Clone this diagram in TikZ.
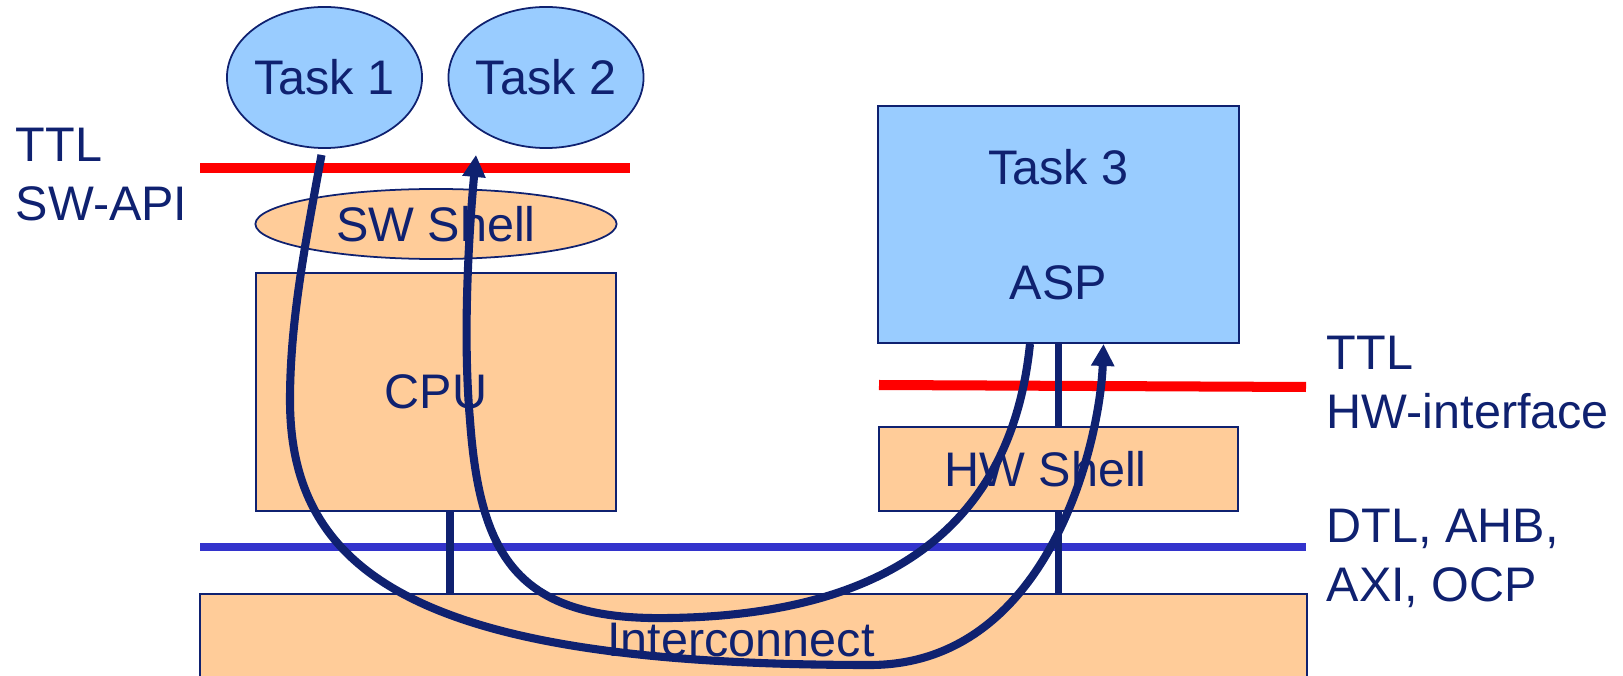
\documentclass[tikz,border=0pt]{standalone}
\usepackage{fontspec}
\setmainfont{Liberation Sans}
\usepackage{tikz}
\usetikzlibrary{shapes.geometric,arrows.meta}
\definecolor{navy}{HTML}{0F2170}
\definecolor{skyfill}{HTML}{99CCFF}
\definecolor{peach}{HTML}{FFCC99}
\definecolor{busblue}{HTML}{3333CC}

\begin{document}
\begin{tikzpicture}[x=0.01cm,y=-0.01cm,
  txtstyle/.style={text=navy, font=\fontsize{13.8}{16.8}\selectfont},
  taskstyle/.style={ellipse, draw=navy, fill=skyfill, line width=0.5pt, minimum width=1.95cm, minimum height=1.41cm, inner ysep=0pt, inner xsep=-0.3cm, txtstyle},
  boxstyle/.style={rectangle, draw=navy, fill=peach, line width=0.5pt, inner sep=0pt, txtstyle},
  labelstyle/.style={txtstyle, align=left, anchor=north west, inner sep=0pt},
  linkstyle/.style={navy, line width=2pt},
  flowstyle/.style={navy, line width=2.3pt, -{Triangle[length=2.2mm,width=2.2mm]}}]
  \useasboundingbox (0,0) rectangle (1623,676);

  % tasks, shells and the interconnect
  \node [taskstyle] (t1) at (324.5,77.5) {Task 1};
  \node [taskstyle] (t2) at (546,77.5) {Task 2};
  \node [boxstyle, ellipse, minimum width=3.61cm, minimum height=0.7cm] (sws) at (436,224) {SW Shell};
  \node [boxstyle, minimum width=3.6cm, minimum height=2.38cm] (cpu) at (436,392) {CPU};
  \node [boxstyle, fill=skyfill, align=center, minimum width=3.61cm, minimum height=2.37cm] (asp) at (1058.5,224.5) {Task 3\\[16pt]ASP};
  \node [boxstyle, minimum width=3.59cm, minimum height=0.84cm] (hws) at (1058.5,469) {HW Shell\kern0.26cm};
  \node [boxstyle, minimum width=11.07cm, minimum height=1cm] (ic) at (753.5,644) {};
  \node [txtstyle] (icl) at (741,640) {Interconnect};

  % interface levels
  \draw [red, line width=0.1cm] (200,168) -- (630,168);
  \draw [red, line width=0.1cm] (879,385) -- (1306,387);
  \draw [busblue, line width=0.07cm] (200,547) -- (1306,547);

  \node [labelstyle] (swapi) at (15,127) {TTL\\SW-API};
  \node [labelstyle] (hwif) at (1326,335) {TTL\\HW-interface};
  \node [labelstyle] (dtl) at (1326,508) {DTL, AHB,\\AXI, OCP};

  % ports
  \path ([xshift=0.14cm]cpu.south) coordinate (cpuport);
  \draw [linkstyle] (cpuport) -- (cpuport |- ic.north);
  \draw [linkstyle] (asp.south) -- (hws.north);
  \draw [linkstyle] (hws.south) -- (hws.south |- ic.north);

  % data flow
  \draw [flowstyle] ([shift={(-3,6)}]t1.south) .. controls (306,240) and (290,320) .. (290,400)
    .. controls (290,580) and (430,665) .. (870,665)
    .. controls (1050,665) and (1100,440) .. ([xshift=0.45cm]asp.south);
  \draw [flowstyle] ([xshift=-0.285cm]asp.south) .. controls (1010,540) and (870,615) .. (670,618)
    .. controls (520,621) and (480,560) .. (470,420)
    .. controls (462,330) and (470,220) .. ([shift={(-70,6)}]t2.south);
\end{tikzpicture}
\end{document}
